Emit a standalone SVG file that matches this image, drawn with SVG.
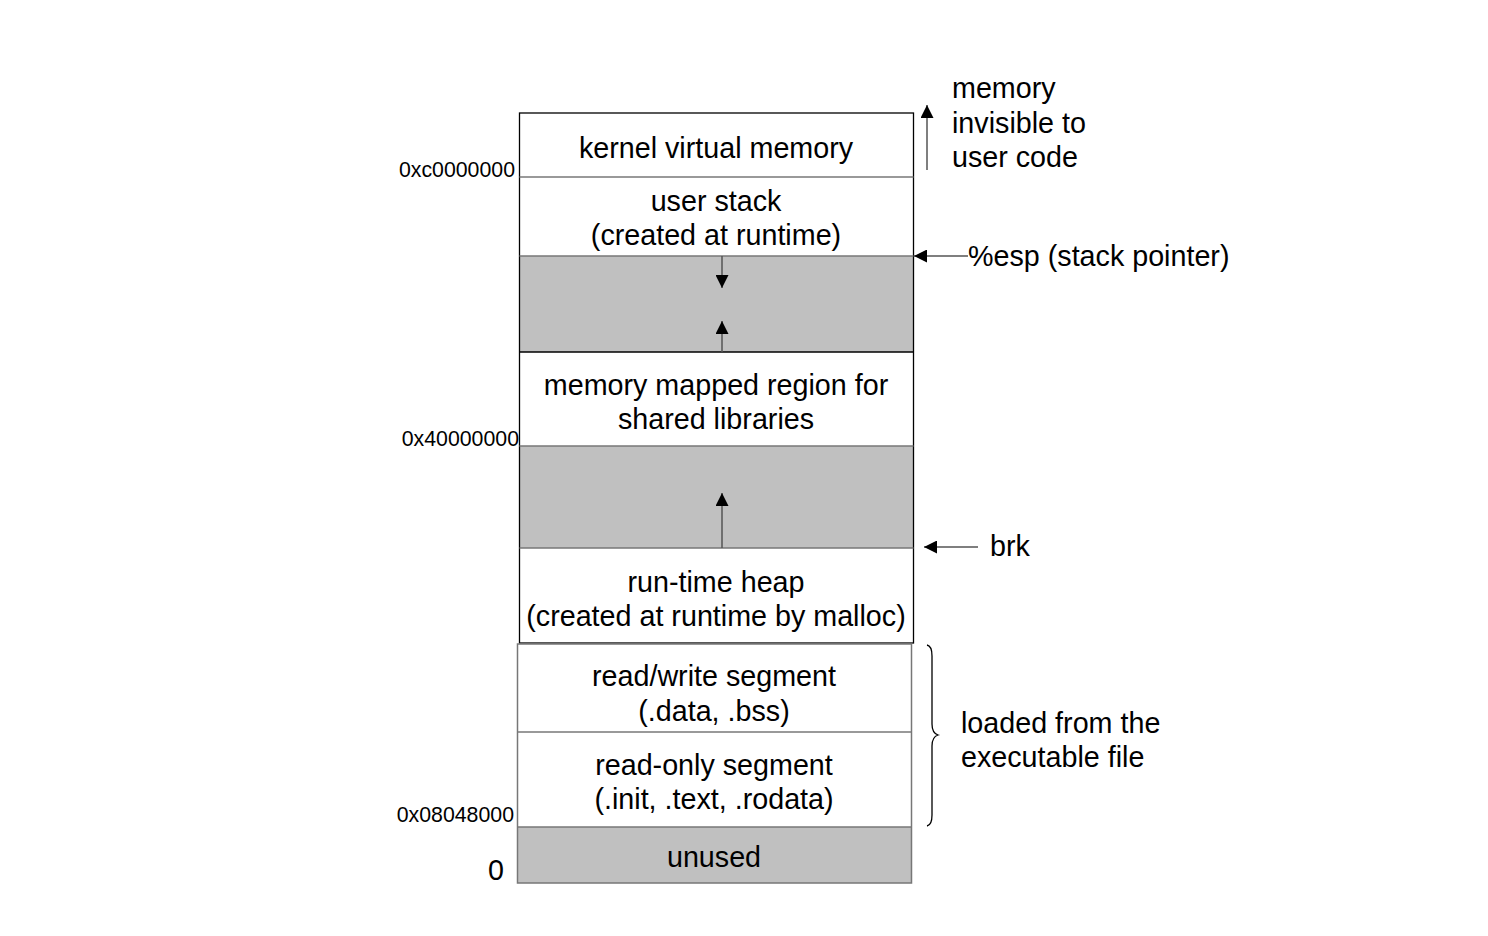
<svg xmlns="http://www.w3.org/2000/svg" width="1488" height="936" viewBox="0 0 1488 936">
<style>
text{font-family:"Liberation Sans",Arial,Helvetica,sans-serif;fill:#000}
.t{font-size:28.7px;text-anchor:middle}
.r{font-size:28.7px}
.a{font-size:21.3px;text-anchor:end}
.w{fill:#fff;stroke:none}
.g{fill:#c0c0c0;stroke:none}
.sep{stroke:#777;stroke-width:1.5;fill:none}
.out{stroke:#000;stroke-width:1.3;fill:none}
.ln{stroke:#555;stroke-width:1.5;fill:none}
</style>
<defs>
<marker id="ah" viewBox="0 0 10 10" refX="10" refY="5" markerWidth="13" markerHeight="13" markerUnits="userSpaceOnUse" orient="auto">
<path d="M0,0 L10,5 L0,10 Z" fill="#000"/>
</marker>
</defs>
<rect width="1488" height="936" fill="#fff"/>

<g id="kernel">
<rect class="w" x="519.5" y="113" width="394" height="64"/>
<text class="t" x="716" y="158">kernel virtual memory</text>
</g>
<g id="user-stack">
<rect class="w" x="519.5" y="177" width="394" height="79"/>
<text class="t" x="716" y="211">user stack</text>
<text class="t" x="716" y="245">(created at runtime)</text>
</g>
<g id="gap1">
<rect class="g" x="519.5" y="256" width="394" height="96"/>
</g>
<g id="mmap">
<rect class="w" x="519.5" y="352" width="394" height="94"/>
<text class="t" x="716" y="395">memory mapped region for</text>
<text class="t" x="716" y="429">shared libraries</text>
</g>
<g id="gap2">
<rect class="g" x="519.5" y="446" width="394" height="102"/>
</g>
<g id="heap">
<rect class="w" x="519.5" y="548" width="394" height="95"/>
<text class="t" x="716" y="592">run-time heap</text>
<text class="t" x="716" y="626">(created at runtime by malloc)</text>
</g>
<g id="rw">
<rect class="w" x="517.5" y="644" width="394" height="88"/>
<text class="t" x="714" y="686">read/write segment</text>
<text class="t" x="714" y="721">(.data, .bss)</text>
</g>
<g id="ro">
<rect class="w" x="517.5" y="732" width="394" height="95"/>
<text class="t" x="714" y="775">read-only segment</text>
<text class="t" x="714" y="809">(.init, .text, .rodata)</text>
</g>
<g id="unused">
<rect class="g" x="517.5" y="827" width="394" height="56"/>
<text class="t" x="714" y="867">unused</text>
</g>

<g id="borders">
<rect class="out" x="519.5" y="113" width="394" height="530"/>
<line class="sep" x1="519.5" y1="177" x2="913.5" y2="177"/>
<line class="sep" x1="519.5" y1="256" x2="913.5" y2="256"/>
<line class="out" x1="519.5" y1="352" x2="913.5" y2="352"/>
<line class="sep" x1="519.5" y1="446" x2="913.5" y2="446"/>
<line class="sep" x1="519.5" y1="548" x2="913.5" y2="548"/>
<rect class="sep" x="517.5" y="644" width="394" height="239"/>
<line class="sep" x1="517.5" y1="732" x2="911.5" y2="732"/>
<line class="sep" x1="517.5" y1="827" x2="911.5" y2="827"/>
</g>

<g id="addresses">
<text class="a" x="515" y="177">0xc0000000</text>
<text class="a" x="519" y="446">0x40000000</text>
<text class="a" x="514" y="822">0x08048000</text>
<text class="r" x="504" y="880" text-anchor="end">0</text>
</g>

<g id="labels">
<text class="r" x="952" y="98">memory</text>
<text class="r" x="952" y="133">invisible to</text>
<text class="r" x="952" y="167">user code</text>
<text class="r" x="968" y="266">%esp (stack pointer)</text>
<text class="r" x="990" y="556">brk</text>
<text class="r" x="961" y="733">loaded from the</text>
<text class="r" x="961" y="767">executable file</text>
</g>

<g id="connectors">
<line class="ln" x1="927" y1="170" x2="927" y2="105" marker-end="url(#ah)"/>
<line class="ln" x1="968" y1="256" x2="914" y2="256" marker-end="url(#ah)"/>
<line class="ln" x1="978" y1="547" x2="924" y2="547" marker-end="url(#ah)"/>
<line class="ln" x1="722" y1="256" x2="722" y2="288" marker-end="url(#ah)"/>
<line class="ln" x1="722" y1="352" x2="722" y2="321" marker-end="url(#ah)"/>
<line class="ln" x1="722" y1="548" x2="722" y2="493" marker-end="url(#ah)"/>
<path class="out" stroke-width="1.3" d="M927,645 Q932,646 932,656 L932,724 Q932,733 938,735 Q932,737 932,746 L932,815 Q932,825 927,826"/>
</g>
</svg>
